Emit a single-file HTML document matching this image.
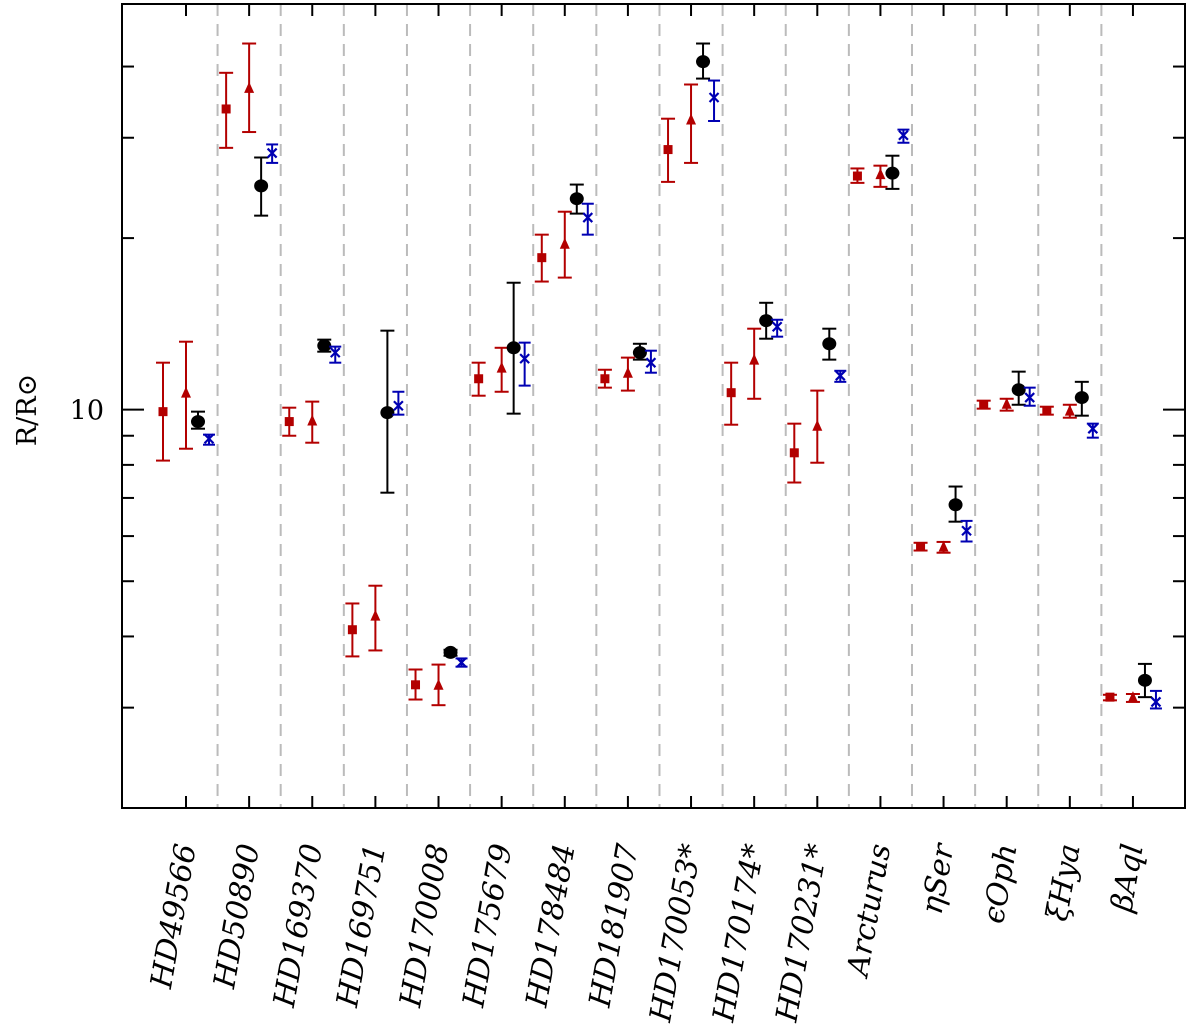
<!DOCTYPE html>
<html><head><meta charset="utf-8"><style>
html,body{margin:0;padding:0;background:#fff}
svg{display:block}
</style></head><body>
<svg id="chart" width="1200" height="1035" viewBox="0 0 1200 1035" xmlns="http://www.w3.org/2000/svg">
<g id="grid"></g>
<g id="marks"></g>
<g id="axes"></g>
</svg>
<script>
const stars = ["HD49566","HD50890","HD169370","HD169751","HD170008","HD175679","HD178484","HD181907","HD170053*","HD170174*","HD170231*","Arcturus","ηSer","ϵOph","ξHya","βAql"];
// series: value, lower, upper
const sqVal = [9.92,33.7,9.53,4.11,3.29,11.33,18.48,11.33,28.6,10.71,8.40,25.7,5.75,10.20,9.96,3.13];
const sqLo  = [8.14,28.8,9.00,3.69,3.10,10.58,16.78,10.93,25.1,9.41,7.45,25.0,5.66,10.04,9.80,3.09];
const sqHi  = [12.09,39.0,10.08,4.57,3.50,12.09,20.28,11.75,32.4,12.09,9.45,26.5,5.84,10.37,10.12,3.16];
const triVal = [10.71,36.7,9.57,4.35,3.29,11.85,19.55,11.61,32.3,12.24,9.37,25.9,5.75,10.24,9.96,3.13];
const triLo  = [8.54,30.7,8.75,3.78,3.03,10.75,17.05,10.80,27.1,10.45,8.07,24.6,5.61,9.96,9.68,3.07];
const triHi  = [13.16,43.9,10.33,4.91,3.57,12.84,22.25,12.34,37.2,13.87,10.80,26.8,5.86,10.45,10.20,3.17];
const circVal = [9.53,24.7,12.95,9.88,3.75,12.84,23.45,12.59,40.8,14.33,13.05,26.0,6.81,10.84,10.50,3.35];
const circLo  = [9.26,21.9,12.64,7.15,3.70,9.84,22.08,12.24,38.1,13.32,12.24,24.4,6.36,10.20,9.76,3.13];
const circHi  = [9.92,27.7,13.27,13.76,3.79,16.70,24.83,13.05,43.9,15.40,13.87,27.9,7.33,11.66,11.19,3.58];
const crossVal = [8.89,28.2,12.59,10.16,3.60,12.29,21.73,12.09,35.3,13.98,11.47,30.3,6.13,10.50,9.26,3.07];
const crossLo  = [8.68,27.1,12.09,9.80,3.54,11.02,20.28,11.61,32.1,13.43,11.19,29.4,5.87,10.16,8.93,2.99];
const crossHi  = [9.04,29.2,12.90,10.75,3.66,13.11,22.98,12.69,37.8,14.38,11.70,31.0,6.38,10.93,9.45,3.21];
const yMin = 2, yMax = 51.5;
const minorTicks = [3,4,5,6,7,8,9,20,30,40];
const majorTicks = [10];

const L=122,R=1185,T=4,B=808;
const NS="http://www.w3.org/2000/svg";
const FONT='"DejaVu Serif","Liberation Serif",serif';
function xPos(i){return 186 + i*63.13;}
function yPos(v){return B - (Math.log10(v)-Math.log10(yMin))/(Math.log10(yMax)-Math.log10(yMin))*(B-T);}
function mk(tag,attrs,parent){const e=document.createElementNS(NS,tag);for(const k in attrs)e.setAttribute(k,attrs[k]);parent.appendChild(e);return e;}
const grid=document.getElementById('grid'),marks=document.getElementById('marks'),axes=document.getElementById('axes');

for(let i=0;i<stars.length-1;i++){
  const x=(xPos(i)+xPos(i+1))/2;
  const l=mk('line',{x1:x,y1:T,x2:x,y2:B,stroke:'#bbb','stroke-width':2,'stroke-dasharray':'12 8'},grid);
  
  
}

function errbar(g,x,lo,hi,color,cw){
  mk('line',{x1:x,y1:yPos(lo),x2:x,y2:yPos(hi),stroke:color,'stroke-width':2},g);
  mk('line',{x1:x-cw,y1:yPos(lo),x2:x+cw,y2:yPos(lo),stroke:color,'stroke-width':2},g);
  mk('line',{x1:x-cw,y1:yPos(hi),x2:x+cw,y2:yPos(hi),stroke:color,'stroke-width':2},g);
}
const red='#b30000',blue='#0000b3';
stars.forEach((s,i)=>{
  const cx=xPos(i);
  let g=mk('g',{},marks);
  
  
  let x=cx-23; errbar(g,x,sqLo[i],sqHi[i],red,7);
  mk('rect',{x:x-4.5,y:yPos(sqVal[i])-4.5,width:9,height:9,fill:red},g);
  g=mk('g',{},marks);
  
  
  x=cx; errbar(g,x,triLo[i],triHi[i],red,7);
  let y=yPos(triVal[i]);
  mk('polygon',{points:`${x-5},${y+5} ${x+5},${y+5} ${x},${y-6}`,fill:red},g);
  g=mk('g',{},marks);
  
  
  x=cx+12; errbar(g,x,circLo[i],circHi[i],'#000',7);
  mk('ellipse',{cx:x,cy:yPos(circVal[i]),rx:7,ry:6.5,fill:'#000'},g);
  g=mk('g',{},marks);
  
  
  x=cx+23; errbar(g,x,crossLo[i],crossHi[i],blue,6);
  y=yPos(crossVal[i]);
  mk('path',{d:`M${x-4.5},${y-4.5}L${x+4.5},${y+4.5}M${x-4.5},${y+4.5}L${x+4.5},${y-4.5}`,stroke:blue,'stroke-width':2.2},g);
});

const fr=mk('rect',{x:L,y:T,width:R-L,height:B-T,fill:'none',stroke:'#000','stroke-width':2},axes);


stars.forEach((s,i)=>{
  const x=xPos(i);
  mk('line',{x1:x,y1:T,x2:x,y2:T+12,stroke:'#000','stroke-width':2},axes);
  mk('line',{x1:x,y1:B,x2:x,y2:B-12,stroke:'#000','stroke-width':2},axes);
  const t=mk('text',{transform:`translate(${x+10},846) rotate(-80)`,'text-anchor':'end','font-family':FONT,'font-style':'italic','font-size':30,fill:'#000'},axes);
  t.textContent=s;
  
  
});
minorTicks.forEach(v=>{
  const y=yPos(v);
  mk('line',{x1:L,y1:y,x2:L+12,y2:y,stroke:'#000','stroke-width':2},axes);
  mk('line',{x1:R,y1:y,x2:R-12,y2:y,stroke:'#000','stroke-width':2},axes);
});
majorTicks.forEach(v=>{
  const y=yPos(v);
  mk('line',{x1:L,y1:y,x2:L+22,y2:y,stroke:'#000','stroke-width':2},axes);
  mk('line',{x1:R,y1:y,x2:R-22,y2:y,stroke:'#000','stroke-width':2},axes);
  const t=mk('text',{x:104,y:y+10,'text-anchor':'end','font-family':FONT,'font-size':27,fill:'#000'},axes);
  t.textContent=String(v);
  
  
});
const yt=mk('text',{transform:'translate(36,410) rotate(-90)','text-anchor':'middle','font-family':FONT,'font-size':27,fill:'#000'},axes);
yt.textContent='R/R⊙';


</script>
</body></html>
